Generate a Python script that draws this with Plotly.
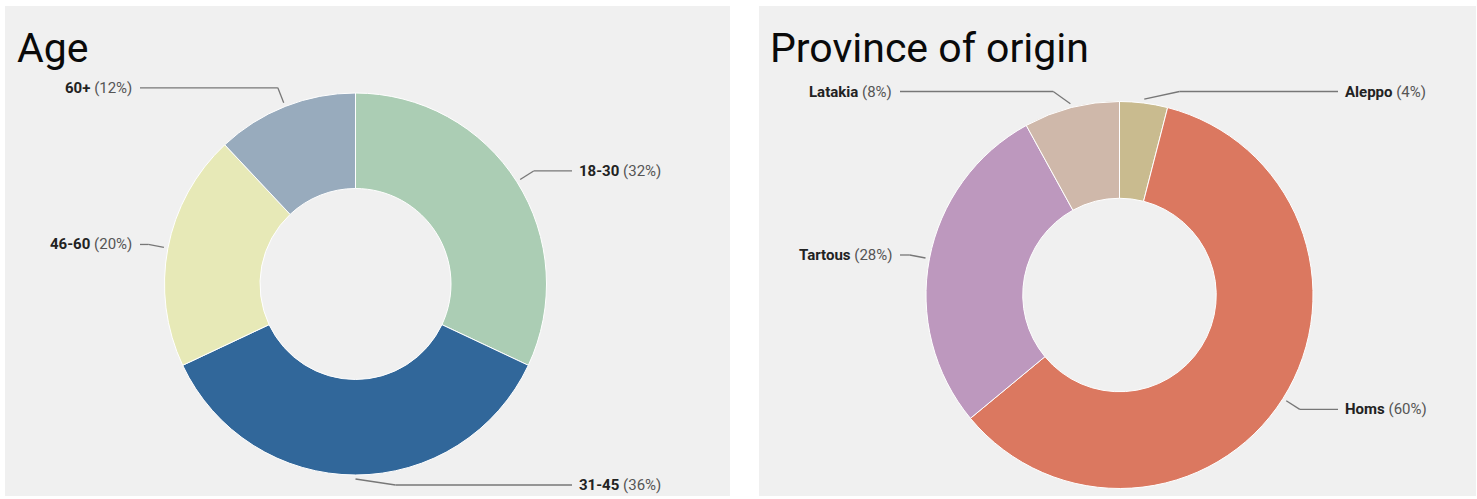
import math
import plotly.graph_objects as go

W, H = 1477, 499

# ---- data ----
age_labels = ["18-30", "31-45", "46-60", "60+"]
age_values = [32, 36, 20, 12]
age_colors = ["#abcdb4", "#31679a", "#e7e9b7", "#98abbd"]

prov_labels = ["Aleppo", "Homs", "Tartous", "Latakia"]
prov_values = [4, 60, 28, 8]
prov_colors = ["#c9bb8f", "#db7860", "#bd98be", "#cfb8aa"]

titles = ["Age", "Province of origin"]

# ---- layout geometry (pixels) ----
panels = [
    dict(x0=5, x1=730, y0=6, y1=496, cx=355.5, cy=284, r=191,
         col_r=572, col_l=140, title_x=15),
    dict(x0=759, x1=1476, y0=6, y1=496, cx=1119.5, cy=295, r=193.5,
         col_r=1338, col_l=900, title_x=768),
]
series = [
    (age_labels, age_values, age_colors),
    (prov_labels, prov_values, prov_colors),
]

fig = go.Figure()
shapes = []
annotations = []


def px(x):
    return x / W


def py(y):
    return 1 - y / H


for p, (labels, values, colors), title in zip(panels, series, titles):
    shapes.append(dict(type="rect", xref="paper", yref="paper", layer="below",
                       x0=px(p["x0"]), x1=px(p["x1"]), y0=py(p["y1"]), y1=py(p["y0"]),
                       fillcolor="#f0f0f0", line=dict(width=0)))
    cx, cy, r = p["cx"], p["cy"], p["r"]
    fig.add_trace(go.Pie(
        labels=labels, values=values, hole=0.5, sort=False,
        direction="clockwise", rotation=0,
        marker=dict(colors=colors, line=dict(color="white", width=1)),
        textinfo="none", hoverinfo="label+percent", showlegend=False,
        domain=dict(x=[px(cx - r), px(cx + r)], y=[py(cy + r), py(cy - r)]),
    ))
    annotations.append(dict(xref="paper", yref="paper", x=px(p["title_x"]), y=py(48),
                            xanchor="left", yanchor="middle", showarrow=False,
                            text=title, font=dict(family="Roboto", size=41, color="#0a0a0a")))
    total = sum(values)
    cum = 0
    for lab, v in zip(labels, values):
        mid = (cum + v / 2) / total
        cum += v
        ang = mid * 2 * math.pi
        s, c = math.sin(ang), math.cos(ang)
        right = mid <= 0.5
        sx, sy = cx + (r + 4) * s, cy - (r + 4) * c
        ex, ey = cx + (r + 20) * s, cy - (r + 20) * c
        lo, hi = cy - r - 10, cy + r + 10
        ey_c = min(max(ey, lo), hi)
        if ey_c != ey:
            ex = ex + (4 * abs(ey - ey_c)) * (1 if right else -1)
            ey = ey_c
        hx = p["col_r"] if right else p["col_l"]
        for (a, b), (c2, d) in [((sx, sy), (ex, ey)), ((ex, ey), (hx, ey))]:
            shapes.append(dict(type="line", xref="paper", yref="paper",
                               x0=px(a), y0=py(b), x1=px(c2), y1=py(d),
                               line=dict(color="#777", width=1.3)))
        pct = round(100 * v / total)
        annotations.append(dict(
            xref="paper", yref="paper",
            x=px(hx + 5 if right else hx - 6), y=py(ey),
            xanchor="left" if right else "right", yanchor="middle", showarrow=False,
            text=f"<b>{lab}</b> <span style='color:#555'>({pct}%)</span>",
            font=dict(family="Roboto", size=15, color="#222")))

fig.update_layout(width=W, height=H, margin=dict(l=0, r=0, t=0, b=0),
                  paper_bgcolor="white", plot_bgcolor="white",
                  shapes=shapes, annotations=annotations)
fig.write_html("out.html", config={"displayModeBar": False},
               post_script="document.body.style.margin='0';document.body.style.overflow='hidden';")
